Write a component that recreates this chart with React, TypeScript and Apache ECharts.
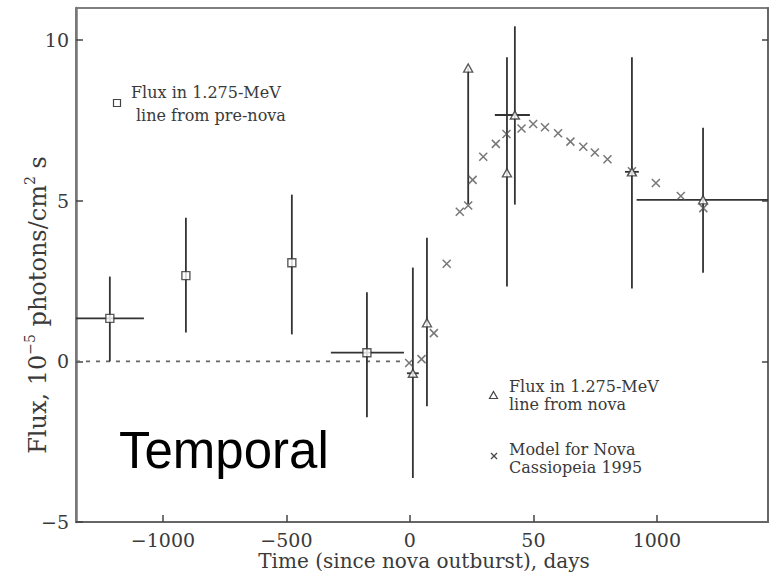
import React, { useEffect, useRef } from 'react';
import * as echarts from 'echarts';

// Axis ticks (the original figure labels the 500 tick as "50")
const xTickValues = [-1000, -500, 0, 500, 1000];
const xTickLabels = ['−1000', '−500', '0', '50', '1000'];
const yTickValues = [-5, 0, 5, 10];
const yTickLabels = ['−5', '0', '5', '10'];

// Flux in 1.275-MeV line from pre-nova (squares)
const preNovaDays = [-1215, -907, -478, -174];
const preNovaFlux = [1.34, 2.67, 3.07, 0.27];
const preNovaLow = [0, 0.9, 0.84, -1.74];
const preNovaHigh = [2.64, 4.47, 5.19, 2.15];
const preNovaDayLow = [-1352, -907, -478, -320];
const preNovaDayHigh = [-1077, -907, -478, -24];

// Flux in 1.275-MeV line from nova (triangles)
const novaDays = [12, 69, 236, 393, 425, 899, 1187];
const novaFlux = [-0.37, 1.2, 9.13, 5.87, 7.67, 5.9, 5.03];
const novaLow = [-3.63, -1.4, 4.9, 2.33, 4.88, 2.27, 2.76];
const novaHigh = [2.92, 3.85, 9.13, 9.47, 10.43, 9.47, 7.27];
const novaDayLow = [-12, 69, 236, 393, 344, 871, 918];
const novaDayHigh = [36, 69, 236, 393, 486, 927, 1450];

// Model for Nova Cassiopeia 1995 (crosses)
const modelDays = [-3, 47, 97, 149, 202, 236, 254, 297, 348, 391, 452, 499, 547, 600, 650, 702, 749, 800, 899, 996, 1097, 1188];
const modelFlux = [-0.05, 0.07, 0.88, 3.04, 4.66, 4.85, 5.65, 6.37, 6.77, 7.08, 7.25, 7.39, 7.29, 7.1, 6.84, 6.68, 6.5, 6.29, 5.92, 5.55, 5.15, 4.77];

// Zero reference (dashed) before outburst
const baselineDays = [-1352, -28];
const baselineFlux = [0, 0];

const SERIF = 'DejaVu Serif';
const INK = '#333';

const errorBarSeries = (name: string, rows: number[][]) => ({
  name,
  type: 'custom',
  clip: true,
  z: 2,
  encode: { x: 0, y: 1 },
  data: rows,
  renderItem: (_params: any, api: any) => {
    const x = api.value(0);
    const y = api.value(1);
    const ylo = api.value(2);
    const yhi = api.value(3);
    const xlo = api.value(4);
    const xhi = api.value(5);
    const children: any[] = [];
    if (yhi !== ylo) {
      const a = api.coord([x, ylo]);
      const b = api.coord([x, yhi]);
      children.push({
        type: 'line',
        shape: { x1: a[0], y1: a[1], x2: b[0], y2: b[1] },
        style: { stroke: INK, lineWidth: 1.8 },
      });
    }
    if (xhi !== xlo) {
      const c = api.coord([xlo, y]);
      const d = api.coord([xhi, y]);
      children.push({
        type: 'line',
        shape: { x1: c[0], y1: c[1], x2: d[0], y2: d[1] },
        style: { stroke: INK, lineWidth: 1.8 },
      });
    }
    return { type: 'group', children };
  },
});

const txt = (text: string, x: number, y: number, fontSize: number, extra: any = {}) => ({
  type: 'text',
  x,
  y,
  z: 10,
  style: {
    text,
    fontFamily: SERIF,
    fontSize,
    fill: '#3a3a3a',
    align: 'left',
    verticalAlign: 'middle',
    textAlign: 'left',
    textVerticalAlign: 'middle',
    ...extra,
  },
});

export default function App() {
  const ref = useRef<HTMLDivElement>(null);

  useEffect(() => {
    if (!ref.current) return;
    const chart = echarts.init(ref.current, undefined, { renderer: 'svg' });

    const preRows = preNovaDays.map((d, i) => [d, preNovaFlux[i], preNovaLow[i], preNovaHigh[i], preNovaDayLow[i], preNovaDayHigh[i]]);
    const novaRows = novaDays.map((d, i) => [d, novaFlux[i], novaLow[i], novaHigh[i], novaDayLow[i], novaDayHigh[i]]);

    const option: any = {
      animation: false,
      backgroundColor: '#fff',
      grid: {
        left: 76,
        top: 8,
        right: 10,
        bottom: 56,
        show: true,
        borderColor: '#555',
        borderWidth: 1.5,
        backgroundColor: 'transparent',
      },
      xAxis: {
        type: 'value',
        min: -1352,
        max: 1450,
        axisLine: { show: true, onZero: false, lineStyle: { color: '#666', width: 2 } },
        axisTick: { show: true, inside: true, length: 7, customValues: xTickValues, lineStyle: { color: '#444', width: 1.5 } },
        axisLabel: {
          show: true,
          customValues: xTickValues,
          margin: 8,
          fontFamily: SERIF,
          fontSize: 19,
          color: '#3a3a3a',
          formatter: (v: number) => {
            const i = xTickValues.indexOf(Math.round(v));
            return i >= 0 ? xTickLabels[i] : '';
          },
        },
        splitLine: { show: false },
      },
      yAxis: [
        {
          type: 'value',
          min: -5,
          max: 11,
          axisLine: { show: true, onZero: false, lineStyle: { color: '#777', width: 2.5 } },
          axisTick: { show: true, inside: true, length: 7, customValues: yTickValues, lineStyle: { color: '#444', width: 1.5 } },
          axisLabel: {
            show: true,
            customValues: yTickValues,
            margin: 7,
            fontFamily: SERIF,
            fontSize: 19,
            color: '#3a3a3a',
            formatter: (v: number) => {
              const i = yTickValues.indexOf(Math.round(v));
              return i >= 0 ? yTickLabels[i] : '';
            },
          },
          splitLine: { show: false },
        },
        {
          type: 'value',
          position: 'right',
          min: -5,
          max: 11,
          axisLine: { show: true, onZero: false, lineStyle: { color: '#666', width: 2 } },
          axisTick: { show: true, inside: true, length: 6, customValues: [0, 5, 10], lineStyle: { color: '#444', width: 1.5 } },
          axisLabel: { show: false },
          splitLine: { show: false },
        },
      ],
      series: [
        {
          name: 'zero',
          type: 'line',
          data: baselineDays.map((d, i) => [d, baselineFlux[i]]),
          symbol: 'none',
          silent: true,
          z: 1,
          lineStyle: { color: '#666', width: 1.6, type: [4, 6] },
        },
        errorBarSeries('pre-nova errors', preRows),
        errorBarSeries('nova errors', novaRows),
        {
          name: 'Flux in 1.275-MeV line from pre-nova',
          type: 'scatter',
          data: preNovaDays.map((d, i) => [d, preNovaFlux[i]]),
          symbol: 'rect',
          symbolSize: 8,
          z: 4,
          itemStyle: { color: '#fff', borderColor: '#333', borderWidth: 1.4 },
        },
        {
          name: 'Model for Nova Cassiopeia 1995',
          type: 'scatter',
          data: modelDays.map((d, i) => [d, modelFlux[i]]),
          symbol: 'path://M0 0L10 10M10 0L0 10',
          symbolSize: 8,
          z: 3,
          itemStyle: { color: 'transparent', borderColor: '#555', borderWidth: 1.5 },
        },
        {
          name: 'Flux in 1.275-MeV line from nova',
          type: 'scatter',
          data: novaDays.map((d, i) => [d, novaFlux[i]]),
          symbol: 'triangle',
          symbolSize: [9, 8],
          z: 5,
          itemStyle: { color: '#fff', borderColor: '#333', borderWidth: 1.4 },
        },
      ],
      graphic: [
        // legend: pre-nova
        { type: 'rect', z: 10, shape: { x: 113.5, y: 99.5, width: 7, height: 7 }, style: { fill: '#fff', stroke: '#444', lineWidth: 1.2 } },
        txt('Flux in 1.275-MeV', 131, 92.5, 16),
        txt('line from pre-nova', 136, 115.5, 16),
        // legend: nova
        { type: 'polygon', z: 10, shape: { points: [[493.5, 391.5], [497.5, 398.5], [489.5, 398.5]] }, style: { fill: '#fff', stroke: '#444', lineWidth: 1.2 } },
        txt('Flux in 1.275-MeV', 509, 386.5, 16),
        txt('line from nova', 509, 404.5, 16),
        // legend: model
        { type: 'line', z: 10, shape: { x1: 491, y1: 453, x2: 497, y2: 459 }, style: { stroke: '#444', lineWidth: 1.2 } },
        { type: 'line', z: 10, shape: { x1: 497, y1: 453, x2: 491, y2: 459 }, style: { stroke: '#444', lineWidth: 1.2 } },
        txt('Model for Nova', 509, 449.5, 16),
        txt('Cassiopeia 1995', 509, 467, 16),
        // axis titles
        txt('Time (since nova outburst), days', 424, 561, 20, { align: 'center', textAlign: 'center' }),
        {
          type: 'text',
          x: 38,
          y: 305,
          rotation: Math.PI / 2,
          z: 10,
          style: {
            text: '{a|Flux, 10}{s|−5}{a| photons/cm}{s|2}{a| s}',
            fontFamily: SERIF,
            fontSize: 24,
            fill: '#3a3a3a',
            align: 'center',
            verticalAlign: 'middle',
            textAlign: 'center',
            textVerticalAlign: 'middle',
            rich: {
              a: { fontFamily: SERIF, fontSize: 24, lineHeight: 30, fill: '#3a3a3a' },
              s: { fontFamily: SERIF, fontSize: 14, lineHeight: 14, verticalAlign: 'top', fill: '#3a3a3a' },
            },
          },
        },
        // overlay word
        {
          type: 'text',
          x: 119,
          y: 450,
          z: 20,
          style: {
            text: 'Temporal',
            fontFamily: 'Liberation Sans',
            fontSize: 51,
            fill: '#000',
            align: 'left',
            verticalAlign: 'middle',
            textAlign: 'left',
            textVerticalAlign: 'middle',
          },
        },
      ],
    };

    chart.setOption(option);
    return () => chart.dispose();
  }, []);

  return (
    <div
      ref={ref}
      style={{ position: 'fixed', left: 0, top: 0, width: 778, height: 578, background: '#fff' }}
    />
  );
}
